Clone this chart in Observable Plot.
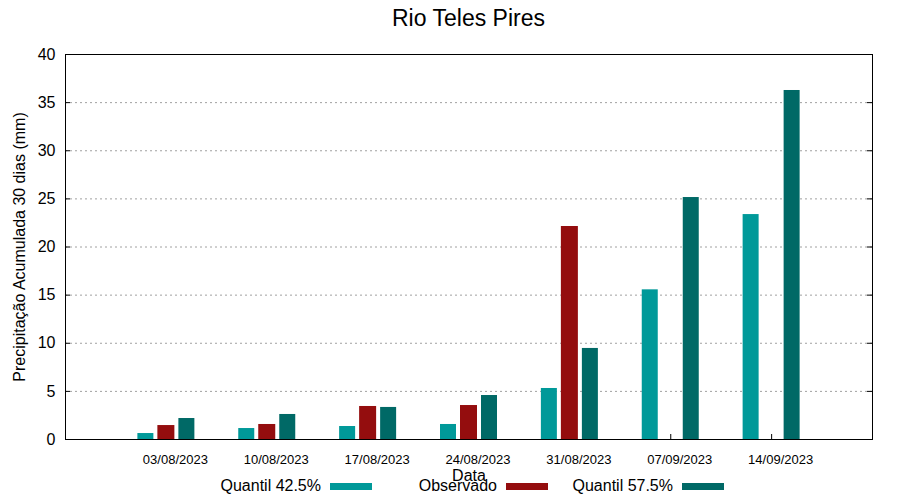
<!DOCTYPE html>
<html>
<head>
<meta charset="utf-8">
<script src="https://cdn.jsdelivr.net/npm/d3@7"></script>
<script src="https://cdn.jsdelivr.net/npm/@observablehq/plot@0.6"></script>
<style>
  html, body { margin: 0; padding: 0; background: #fff; }
  body { font-family: "Liberation Sans", Arial, sans-serif; }
  #wrap { position: relative; width: 900px; height: 500px; overflow: hidden; }
  #title { position: absolute; left: 65px; width: 807px; top: 7px; text-align: center; font-size: 23px; line-height: 23px; color: #000; }
  #chart { position: absolute; left: 0; top: 40px; }
  #legend { position: absolute; left: 196px; top: 478px; display: flex; font-size: 16px; line-height: 16px; color: #000; }
  .item { width: 176px; display: flex; align-items: center; }
  .item span { width: 125px; text-align: right; margin-right: 9px; }
  .item i { display: inline-block; width: 42px; height: 7px; }
</style>
</head>
<body>
<div id="wrap">
  <div id="title"></div>
  <div id="chart"></div>
  <div id="legend"></div>
</div>
<script>
const title = "Rio Teles Pires";
const dates = ["03/08/2023","10/08/2023","17/08/2023","24/08/2023","31/08/2023","07/09/2023","14/09/2023"];
const q425 = [0.62, 1.14, 1.35, 1.56, 5.3, 15.55, 23.37];
const obs  = [1.45, 1.56, 3.43, 3.53, 22.13, null, null];
const q575 = [2.18, 2.6, 3.33, 4.57, 9.46, 25.14, 36.26];
const seriesNames = ["Quantil 42.5%", "Observado", "Quantil 57.5%"];
const seriesColors = ["#009999", "#940d0e", "#006966"];
const yTicks = [0, 5, 10, 15, 20, 25, 30, 35, 40];
const yLabel = "Precipitação Acumulada 30 dias (mm)";
const xLabel = "Data";

const rows = dates.map((d, i) => ({date: d, q425: q425[i], obs: obs[i], q575: q575[i]}));
const innerTicks = yTicks.filter(t => t > 0 && t < 40);

document.getElementById("title").textContent = title;

const W = 900, H = 460, mL = 65, mR = 28, mT = 14, mB = 61;
const pw = W - mL - mR, ph = H - mT - mB;
const bw = pw / 8; // band width (paddingOuter 0.5)

const chart = Plot.plot({
  width: W, height: H,
  marginLeft: mL, marginRight: mR, marginTop: mT, marginBottom: mB,
  style: {fontFamily: "Liberation Sans, Arial, sans-serif", fontSize: "16px", color: "#000", background: "#fff"},
  x: {type: "band", domain: dates, paddingInner: 0, paddingOuter: 0.5, round: false},
  y: {domain: [0, 40]},
  marks: [
    Plot.gridY(innerTicks, {stroke: "#a0a0a0", strokeOpacity: 1, strokeDasharray: "2,3"}),
    Plot.ruleY(innerTicks, {y: d => d, insetRight: pw - 5, stroke: "#000"}),
    Plot.ruleY(innerTicks, {y: d => d, insetLeft: pw - 5, stroke: "#000"}),
    Plot.ruleX(dates, {x: d => d, insetTop: ph - 5, stroke: "#000"}),
    Plot.barY(rows, {x: "date", y: "q425", fill: seriesColors[0], dx: -20.5, insetLeft: (bw - 16) / 2, insetRight: (bw - 16) / 2}),
    Plot.barY(rows, {x: "date", y: "obs", fill: seriesColors[1], insetLeft: (bw - 17) / 2, insetRight: (bw - 17) / 2}),
    Plot.barY(rows, {x: "date", y: "q575", fill: seriesColors[2], dx: 20.5, insetLeft: (bw - 16) / 2, insetRight: (bw - 16) / 2}),
    Plot.frame({stroke: "#000"}),
    Plot.axisY({ticks: yTicks, tickSize: 0, tickPadding: 10, fontSize: 16, label: yLabel, labelArrow: false, labelAnchor: "center", labelOffset: 52}),
    Plot.axisX({tickSize: 0, tickPadding: 15, fontSize: 13, dx: 9, label: null}),
    Plot.text([xLabel], {text: d => d, frameAnchor: "bottom", dy: 41, fontSize: 16, lineAnchor: "bottom"})
  ]
});
document.getElementById("chart").appendChild(chart);

const legend = document.getElementById("legend");
seriesNames.forEach((n, i) => {
  const it = document.createElement("div");
  it.className = "item";
  const s = document.createElement("span");
  s.textContent = n;
  const sw = document.createElement("i");
  sw.style.background = seriesColors[i];
  it.appendChild(s); it.appendChild(sw);
  legend.appendChild(it);
});
</script>
</body>
</html>
